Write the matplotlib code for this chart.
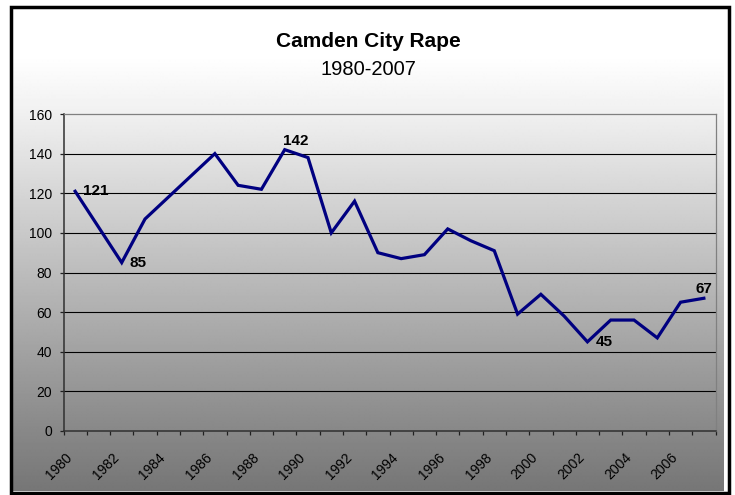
import numpy as np
import matplotlib
matplotlib.use('Agg')
import matplotlib.pyplot as plt
from matplotlib.patches import Rectangle

plt.rcParams['font.family'] = ['Liberation Sans', 'DejaVu Sans']

years = list(range(1980, 2008))
rapes = [121, 103, 85, 107, 118, 129, 140, 124, 122, 142,
         138, 100, 116, 90, 87, 89, 102, 96, 91, 59,
         69, 58, 45, 56, 56, 47, 65, 67]
# labelled points: year -> (dx px, dy px, ha, va)
labelled = {1980: (8, 0, 'left', 'center'),
            1982: (8, 0, 'left', 'center'),
            1989: (-2, 2, 'left', 'bottom'),
            2002: (8, 0, 'left', 'center'),
            2007: (0, 2, 'center', 'bottom')}
yticks = [0, 20, 40, 60, 80, 100, 120, 140, 160]

W, H = 735, 495
fig = plt.figure(figsize=(W / 100, H / 100), dpi=100)
fig.patch.set_facecolor('white')

# chart area gradient
gx0, gy0, gx1, gy1 = 13, 9, 724, 491
bg = fig.add_axes([gx0 / W, 1 - gy1 / H, (gx1 - gx0) / W, (gy1 - gy0) / H])
rows = np.arange(gy0, gy1)
shade = np.interp(rows, [9, 60, 114, 431, 491], [255, 254, 240, 136, 118]) / 255.0
bg.imshow(np.repeat(shade[:, None], 2, axis=1), cmap='gray', vmin=0, vmax=1,
          aspect='auto', extent=[0, 1, 0, 1], interpolation='bilinear')
bg.set_axis_off()

# outer black frame
fig.patches.append(Rectangle((11 / W, 1 - 493 / H), 718 / W, 486 / H,
                             transform=fig.transFigure, fill=False,
                             edgecolor='black', linewidth=2.5))

px0, py0, px1, py1 = 63.5, 114, 715.5, 431
ax = fig.add_axes([px0 / W, 1 - py1 / H, (px1 - px0) / W, (py1 - py0) / H])
ax.patch.set_alpha(0)

n = len(years)
xs = np.arange(n) + 0.5
ax.plot(xs, rapes, color='#000080', linewidth=2.3, solid_joinstyle='miter', zorder=3)

for i, (yr, v) in enumerate(zip(years, rapes)):
    if yr in labelled:
        dx, dy, ha, va = labelled[yr]
        ax.annotate(str(v), (xs[i], v), xytext=(dx * 0.72, dy * 0.72),
                    textcoords='offset points', ha=ha, va=va,
                    fontsize=11, fontweight='bold', color='black', zorder=4)

ax.set_xlim(0, n)
ax.set_ylim(0, 160)
ax.set_yticks(yticks)
ax.set_yticklabels([str(t) for t in yticks])
for t in yticks[1:-1]:
    ax.axhline(t, color='black', linewidth=0.8, zorder=1)

ax.set_xticks(np.arange(n + 1))
ax.set_xticklabels([])
ax.set_xticks(xs[::2], minor=True)
ax.set_xticklabels([str(y) for y in years[::2]], minor=True, rotation=45,
                   ha='right', va='top', fontsize=10)
ax.tick_params(axis='x', which='major', direction='out', length=3.2, width=0.9, color='#202020')
ax.tick_params(axis='x', which='minor', length=0, pad=14)
ax.tick_params(axis='y', direction='out', length=3.2, width=0.9, color='#202020',
               labelsize=10, pad=5)

for s in ['top', 'right']:
    ax.spines[s].set_color('#808080')
    ax.spines[s].set_linewidth(0.9)
for s in ['left', 'bottom']:
    ax.spines[s].set_color('#303030')
    ax.spines[s].set_linewidth(1.1)

cx = ((gx0 + gx1) / 2) / W
fig.text(cx, 1 - 47 / H, 'Camden City Rape', ha='center', va='baseline',
         fontsize=15, fontweight='bold')
fig.text(cx, 1 - 75 / H, '1980-2007', ha='center', va='baseline', fontsize=14.5)

fig.savefig('out.png', dpi=100)
